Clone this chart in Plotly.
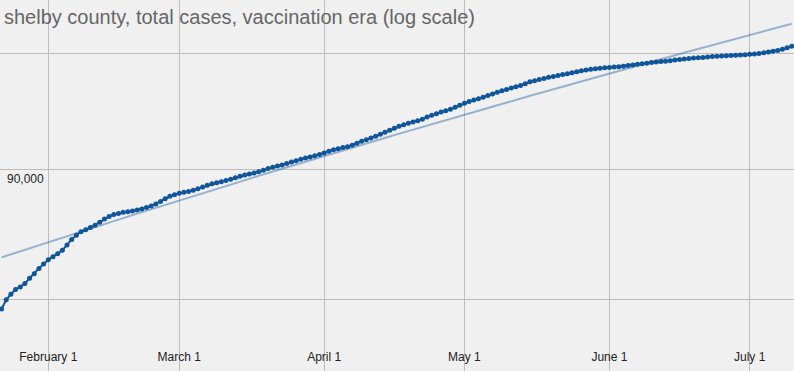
import numpy as np
import pandas as pd
import plotly.graph_objects as go

title_text = "shelby county, total cases, vaccination era (log scale)"
start_date = "2021-01-22"
total_cases = [
    79332, 79995, 80403, 80746, 80923, 81172, 81570, 81896, 82297, 82634,
    82948, 83175, 83401, 83650, 84061, 84481, 84796, 85080, 85227, 85390,
    85576, 85808, 86057, 86245, 86409, 86495, 86582, 86629, 86676, 86754,
    86841, 86959, 87085, 87236, 87433, 87639, 87838, 87966, 88085, 88165,
    88221, 88333, 88453, 88590, 88727, 88839, 88928, 89016, 89104, 89202,
    89324, 89453, 89543, 89624, 89721, 89810, 89932, 90071, 90177, 90276,
    90374, 90488, 90603, 90718, 90833, 90932, 91031, 91131, 91221, 91362,
    91502, 91618, 91710, 91801, 91876, 91993, 92160, 92319, 92453, 92596,
    92747, 92907, 93075, 93243, 93413, 93583, 93718, 93837, 93948, 94058,
    94194, 94366, 94520, 94657, 94794, 94914, 95034, 95207, 95389, 95553,
    95709, 95830, 95944, 96075, 96223, 96362, 96502, 96633, 96756, 96879,
    96984, 97099, 97257, 97424, 97530, 97628, 97725, 97823, 97903, 97992,
    98071, 98151, 98240, 98320, 98400, 98471, 98543, 98579, 98624, 98669,
    98704, 98731, 98758, 98812, 98866, 98928, 98982, 99027, 99081, 99134,
    99179, 99224, 99260, 99305, 99368, 99421, 99467, 99512, 99539, 99566,
    99602, 99639, 99684, 99711, 99729, 99747, 99765, 99792, 99819, 99846,
    99883, 99919, 99964, 100027, 100091, 100163, 100236, 100345, 100481, 100617,
]
x_tick_dates = ["2021-02-01", "2021-03-01", "2021-04-01", "2021-05-01", "2021-06-01", "2021-07-01"]
x_tick_labels = ["February 1", "March 1", "April 1", "May 1", "June 1", "July 1"]
y_tick_values = [80000, 90000, 100000]
y_tick_labels = ["", "90,000", ""]

dates = pd.date_range(start_date, periods=len(total_cases), freq="D")

# linear trendline fitted to the data (drawn on a log axis, so it curves)
t = np.arange(len(total_cases))
coef = np.polyfit(t, np.array(total_cases, dtype=float), 1)
trend = np.polyval(coef, t)

main_color = "#0e559c"

fig = go.Figure()
fig.add_trace(go.Scatter(
    x=dates, y=trend, mode="lines",
    line=dict(color=main_color, width=2), opacity=0.4,
    hoverinfo="skip", showlegend=False,
))
fig.add_trace(go.Scatter(
    x=dates, y=total_cases, mode="lines+markers",
    line=dict(color=main_color, width=2),
    marker=dict(color=main_color, size=5),
    showlegend=False,
))

fig.update_layout(
    width=794, height=371,
    margin=dict(l=0, r=0, t=0, b=0),
    paper_bgcolor="#f0f0f0", plot_bgcolor="#f0f0f0",
    font=dict(family="Liberation Sans, Arial, sans-serif", size=12, color="#222222"),
    title=dict(
        text=title_text, x=0.005, xanchor="left", xref="container",
        y=1 - 17 / 371, yanchor="middle", yref="container",
        font=dict(size=20, color="#666666", family="Liberation Sans, Arial, sans-serif"),
    ),
    xaxis=dict(
        type="date",
        range=["2021-01-21 16:05", "2021-07-10 11:30"],
        tickvals=x_tick_dates, ticktext=x_tick_labels,
        ticklabelposition="inside", ticks="",
        ticklabelstandoff=5,
        showgrid=True, gridcolor="#bdbdbd", gridwidth=1,
        zeroline=False, showline=False,
        tickfont=dict(size=12, color="#222222"),
    ),
    yaxis=dict(
        type="log",
        range=[4.87508, 5.02082],
        tickvals=y_tick_values, ticktext=y_tick_labels,
        ticklabelposition="inside", ticks="",
        ticklabelshift=9, ticklabelstandoff=4,
        showgrid=True, gridcolor="#bdbdbd", gridwidth=1,
        zeroline=False, showline=False,
        tickfont=dict(size=12, color="#222222"),
    ),
)

fig.write_html("out.html")
